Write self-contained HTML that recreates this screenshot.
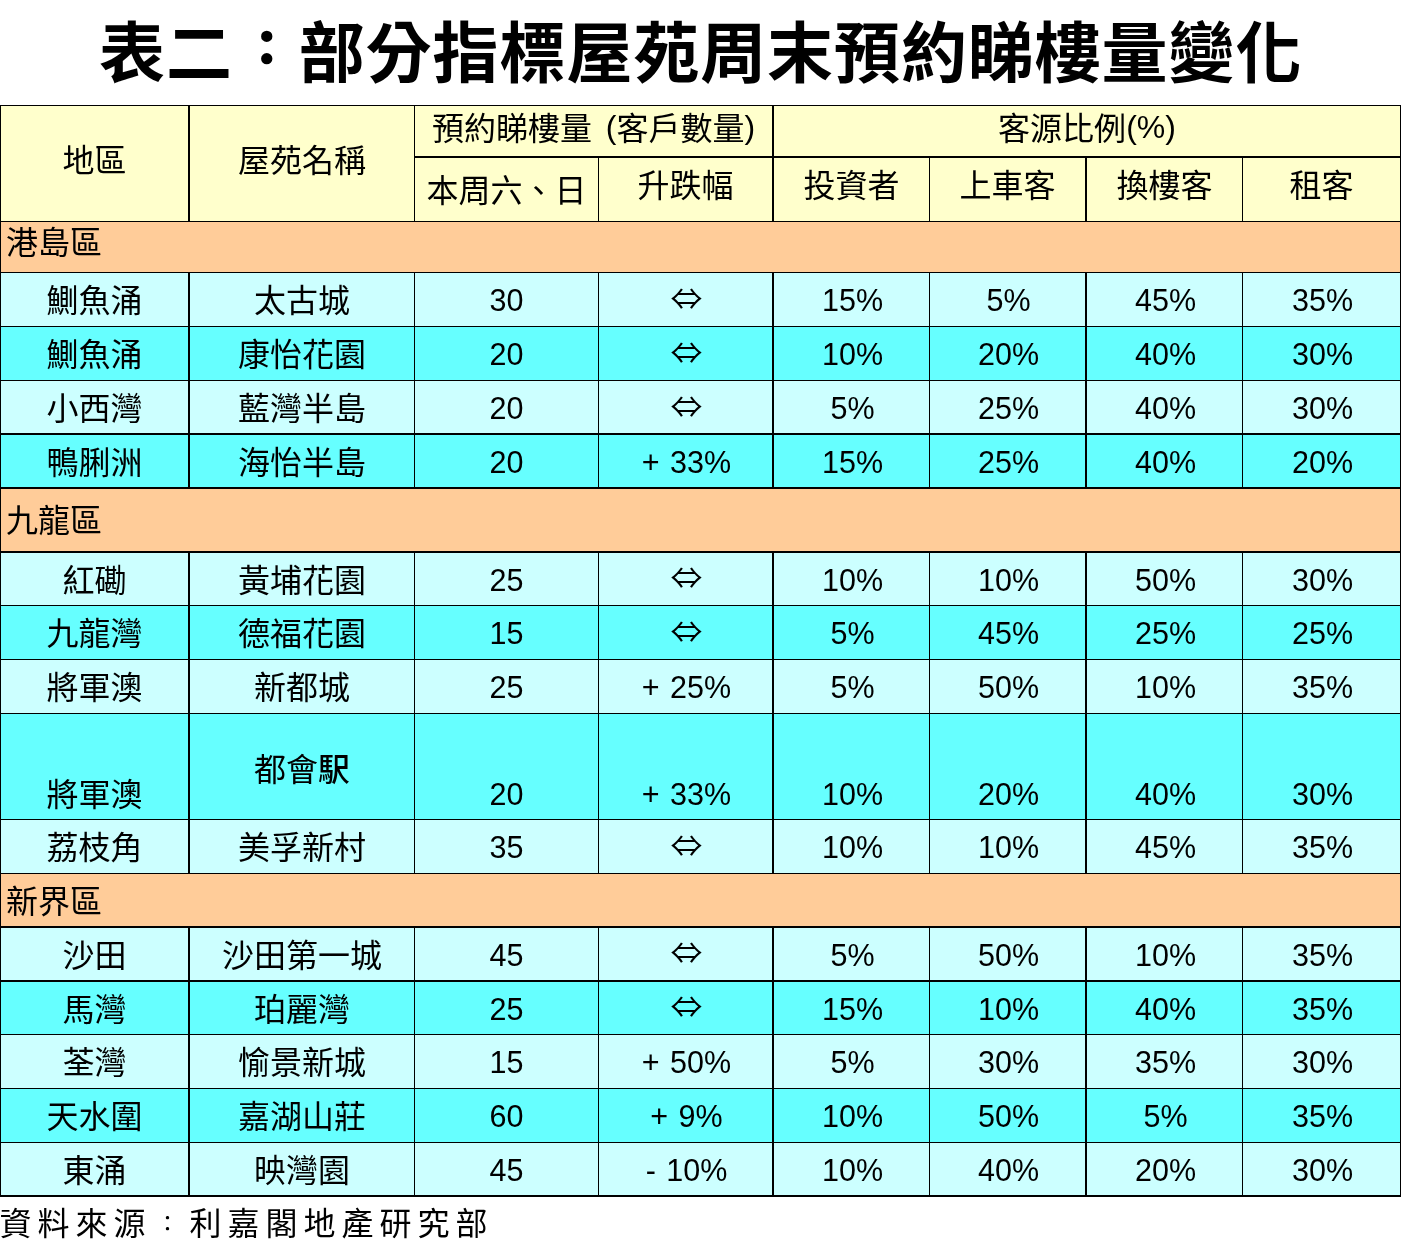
<!DOCTYPE html>
<html><head><meta charset="utf-8"><title>表二：部分指標屋苑周末預約睇樓量變化</title>
<style>
html,body{margin:0;padding:0;background:#fff;}
body{width:1406px;height:1252px;position:relative;overflow:hidden;}
.b,.l,.t{position:absolute;}
.l{background:#000;}
.t{white-space:nowrap;text-align:center;color:#000;height:40px;line-height:40px;}
.c{font-family:"Liberation Sans","Noto Sans CJK TC",sans-serif;font-size:32px;}
.c b{font-weight:500;}
.p{position:relative;top:-2px;}
.n{font-family:"Liberation Sans","Noto Sans CJK TC",sans-serif;font-size:30.5px;word-spacing:2px;}
.arw{font-family:"Noto Sans CJK TC",sans-serif;font-size:29px;}
.arw span{display:inline-block;transform:scaleX(1.1);}
.left{text-align:left;}
.title{position:absolute;left:99px;top:-2.5px;letter-spacing:0.9px;font-family:"Noto Sans CJK TC",sans-serif;font-weight:700;font-size:66px;line-height:100px;height:100px;white-space:nowrap;}
.foot{position:absolute;left:-0.5px;top:1201px;font-family:"Liberation Sans","Noto Sans CJK TC",sans-serif;font-size:32px;letter-spacing:6px;line-height:46px;white-space:nowrap;}
.tc{display:inline-block;width:66px;text-align:center;font-size:46px;-webkit-text-stroke:2.6px #000;position:relative;top:-3.5px;left:1.5px;vertical-align:top;line-height:100px;}
.fc{display:inline-block;width:38px;text-align:center;font-size:22px;position:relative;top:0px;vertical-align:top;line-height:46px;}
</style></head><body>
<div class="title">表二<span class="tc">：</span>部分指標屋苑周末預約睇樓量變化</div>
<div class="b" style="left:0px;top:105px;width:1401px;height:116px;background:#FFFFCC"></div>
<div class="b" style="left:0px;top:221px;width:1401px;height:51px;background:#FFCC99"></div>
<div class="b" style="left:0px;top:487px;width:1401px;height:64px;background:#FFCC99"></div>
<div class="b" style="left:0px;top:873px;width:1401px;height:53px;background:#FFCC99"></div>
<div class="b" style="left:0px;top:272px;width:1401px;height:54px;background:#CCFFFF"></div>
<div class="b" style="left:0px;top:326px;width:1401px;height:54px;background:#66FFFF"></div>
<div class="b" style="left:0px;top:380px;width:1401px;height:53px;background:#CCFFFF"></div>
<div class="b" style="left:0px;top:433px;width:1401px;height:54px;background:#66FFFF"></div>
<div class="b" style="left:0px;top:551px;width:1401px;height:54px;background:#CCFFFF"></div>
<div class="b" style="left:0px;top:605px;width:1401px;height:54px;background:#66FFFF"></div>
<div class="b" style="left:0px;top:659px;width:1401px;height:54px;background:#CCFFFF"></div>
<div class="b" style="left:0px;top:713px;width:1401px;height:106px;background:#66FFFF"></div>
<div class="b" style="left:0px;top:819px;width:1401px;height:54px;background:#CCFFFF"></div>
<div class="b" style="left:0px;top:926px;width:1401px;height:54px;background:#CCFFFF"></div>
<div class="b" style="left:0px;top:980px;width:1401px;height:54px;background:#66FFFF"></div>
<div class="b" style="left:0px;top:1034px;width:1401px;height:54px;background:#CCFFFF"></div>
<div class="b" style="left:0px;top:1088px;width:1401px;height:54px;background:#66FFFF"></div>
<div class="b" style="left:0px;top:1142px;width:1401px;height:53px;background:#CCFFFF"></div>
<div class="l" style="left:0px;top:105px;width:1401px;height:1px"></div>
<div class="l" style="left:414px;top:156px;width:987px;height:2px"></div>
<div class="l" style="left:0px;top:221px;width:1401px;height:1px"></div>
<div class="l" style="left:0px;top:272px;width:1401px;height:1px"></div>
<div class="l" style="left:0px;top:326px;width:1401px;height:1px"></div>
<div class="l" style="left:0px;top:380px;width:1401px;height:1px"></div>
<div class="l" style="left:0px;top:433px;width:1401px;height:2px"></div>
<div class="l" style="left:0px;top:487px;width:1401px;height:2px"></div>
<div class="l" style="left:0px;top:551px;width:1401px;height:2px"></div>
<div class="l" style="left:0px;top:605px;width:1401px;height:1px"></div>
<div class="l" style="left:0px;top:659px;width:1401px;height:1px"></div>
<div class="l" style="left:0px;top:713px;width:1401px;height:1px"></div>
<div class="l" style="left:0px;top:819px;width:1401px;height:1px"></div>
<div class="l" style="left:0px;top:873px;width:1401px;height:1px"></div>
<div class="l" style="left:0px;top:926px;width:1401px;height:2px"></div>
<div class="l" style="left:0px;top:980px;width:1401px;height:2px"></div>
<div class="l" style="left:0px;top:1034px;width:1401px;height:1px"></div>
<div class="l" style="left:0px;top:1088px;width:1401px;height:1px"></div>
<div class="l" style="left:0px;top:1142px;width:1401px;height:1px"></div>
<div class="l" style="left:0px;top:1195px;width:1401px;height:2px"></div>
<div class="l" style="left:0px;top:105px;width:1px;height:116px"></div>
<div class="l" style="left:188px;top:105px;width:2px;height:116px"></div>
<div class="l" style="left:414px;top:105px;width:1px;height:116px"></div>
<div class="l" style="left:598px;top:156px;width:1px;height:65px"></div>
<div class="l" style="left:772px;top:105px;width:2px;height:116px"></div>
<div class="l" style="left:929px;top:156px;width:1px;height:65px"></div>
<div class="l" style="left:1085px;top:156px;width:2px;height:65px"></div>
<div class="l" style="left:1242px;top:156px;width:1px;height:65px"></div>
<div class="l" style="left:1400px;top:105px;width:1px;height:116px"></div>
<div class="l" style="left:0px;top:272px;width:1px;height:55px"></div>
<div class="l" style="left:188px;top:272px;width:2px;height:55px"></div>
<div class="l" style="left:414px;top:272px;width:1px;height:55px"></div>
<div class="l" style="left:598px;top:272px;width:1px;height:55px"></div>
<div class="l" style="left:772px;top:272px;width:2px;height:55px"></div>
<div class="l" style="left:929px;top:272px;width:1px;height:55px"></div>
<div class="l" style="left:1085px;top:272px;width:2px;height:55px"></div>
<div class="l" style="left:1242px;top:272px;width:1px;height:55px"></div>
<div class="l" style="left:1400px;top:272px;width:1px;height:55px"></div>
<div class="l" style="left:0px;top:326px;width:1px;height:55px"></div>
<div class="l" style="left:188px;top:326px;width:2px;height:55px"></div>
<div class="l" style="left:414px;top:326px;width:1px;height:55px"></div>
<div class="l" style="left:598px;top:326px;width:1px;height:55px"></div>
<div class="l" style="left:772px;top:326px;width:2px;height:55px"></div>
<div class="l" style="left:929px;top:326px;width:1px;height:55px"></div>
<div class="l" style="left:1085px;top:326px;width:2px;height:55px"></div>
<div class="l" style="left:1242px;top:326px;width:1px;height:55px"></div>
<div class="l" style="left:1400px;top:326px;width:1px;height:55px"></div>
<div class="l" style="left:0px;top:380px;width:1px;height:55px"></div>
<div class="l" style="left:188px;top:380px;width:2px;height:55px"></div>
<div class="l" style="left:414px;top:380px;width:1px;height:55px"></div>
<div class="l" style="left:598px;top:380px;width:1px;height:55px"></div>
<div class="l" style="left:772px;top:380px;width:2px;height:55px"></div>
<div class="l" style="left:929px;top:380px;width:1px;height:55px"></div>
<div class="l" style="left:1085px;top:380px;width:2px;height:55px"></div>
<div class="l" style="left:1242px;top:380px;width:1px;height:55px"></div>
<div class="l" style="left:1400px;top:380px;width:1px;height:55px"></div>
<div class="l" style="left:0px;top:433px;width:1px;height:56px"></div>
<div class="l" style="left:188px;top:433px;width:2px;height:56px"></div>
<div class="l" style="left:414px;top:433px;width:1px;height:56px"></div>
<div class="l" style="left:598px;top:433px;width:1px;height:56px"></div>
<div class="l" style="left:772px;top:433px;width:2px;height:56px"></div>
<div class="l" style="left:929px;top:433px;width:1px;height:56px"></div>
<div class="l" style="left:1085px;top:433px;width:2px;height:56px"></div>
<div class="l" style="left:1242px;top:433px;width:1px;height:56px"></div>
<div class="l" style="left:1400px;top:433px;width:1px;height:56px"></div>
<div class="l" style="left:0px;top:551px;width:1px;height:55px"></div>
<div class="l" style="left:188px;top:551px;width:2px;height:55px"></div>
<div class="l" style="left:414px;top:551px;width:1px;height:55px"></div>
<div class="l" style="left:598px;top:551px;width:1px;height:55px"></div>
<div class="l" style="left:772px;top:551px;width:2px;height:55px"></div>
<div class="l" style="left:929px;top:551px;width:1px;height:55px"></div>
<div class="l" style="left:1085px;top:551px;width:2px;height:55px"></div>
<div class="l" style="left:1242px;top:551px;width:1px;height:55px"></div>
<div class="l" style="left:1400px;top:551px;width:1px;height:55px"></div>
<div class="l" style="left:0px;top:605px;width:1px;height:55px"></div>
<div class="l" style="left:188px;top:605px;width:2px;height:55px"></div>
<div class="l" style="left:414px;top:605px;width:1px;height:55px"></div>
<div class="l" style="left:598px;top:605px;width:1px;height:55px"></div>
<div class="l" style="left:772px;top:605px;width:2px;height:55px"></div>
<div class="l" style="left:929px;top:605px;width:1px;height:55px"></div>
<div class="l" style="left:1085px;top:605px;width:2px;height:55px"></div>
<div class="l" style="left:1242px;top:605px;width:1px;height:55px"></div>
<div class="l" style="left:1400px;top:605px;width:1px;height:55px"></div>
<div class="l" style="left:0px;top:659px;width:1px;height:55px"></div>
<div class="l" style="left:188px;top:659px;width:2px;height:55px"></div>
<div class="l" style="left:414px;top:659px;width:1px;height:55px"></div>
<div class="l" style="left:598px;top:659px;width:1px;height:55px"></div>
<div class="l" style="left:772px;top:659px;width:2px;height:55px"></div>
<div class="l" style="left:929px;top:659px;width:1px;height:55px"></div>
<div class="l" style="left:1085px;top:659px;width:2px;height:55px"></div>
<div class="l" style="left:1242px;top:659px;width:1px;height:55px"></div>
<div class="l" style="left:1400px;top:659px;width:1px;height:55px"></div>
<div class="l" style="left:0px;top:713px;width:1px;height:107px"></div>
<div class="l" style="left:188px;top:713px;width:2px;height:107px"></div>
<div class="l" style="left:414px;top:713px;width:1px;height:107px"></div>
<div class="l" style="left:598px;top:713px;width:1px;height:107px"></div>
<div class="l" style="left:772px;top:713px;width:2px;height:107px"></div>
<div class="l" style="left:929px;top:713px;width:1px;height:107px"></div>
<div class="l" style="left:1085px;top:713px;width:2px;height:107px"></div>
<div class="l" style="left:1242px;top:713px;width:1px;height:107px"></div>
<div class="l" style="left:1400px;top:713px;width:1px;height:107px"></div>
<div class="l" style="left:0px;top:819px;width:1px;height:55px"></div>
<div class="l" style="left:188px;top:819px;width:2px;height:55px"></div>
<div class="l" style="left:414px;top:819px;width:1px;height:55px"></div>
<div class="l" style="left:598px;top:819px;width:1px;height:55px"></div>
<div class="l" style="left:772px;top:819px;width:2px;height:55px"></div>
<div class="l" style="left:929px;top:819px;width:1px;height:55px"></div>
<div class="l" style="left:1085px;top:819px;width:2px;height:55px"></div>
<div class="l" style="left:1242px;top:819px;width:1px;height:55px"></div>
<div class="l" style="left:1400px;top:819px;width:1px;height:55px"></div>
<div class="l" style="left:0px;top:926px;width:1px;height:56px"></div>
<div class="l" style="left:188px;top:926px;width:2px;height:56px"></div>
<div class="l" style="left:414px;top:926px;width:1px;height:56px"></div>
<div class="l" style="left:598px;top:926px;width:1px;height:56px"></div>
<div class="l" style="left:772px;top:926px;width:2px;height:56px"></div>
<div class="l" style="left:929px;top:926px;width:1px;height:56px"></div>
<div class="l" style="left:1085px;top:926px;width:2px;height:56px"></div>
<div class="l" style="left:1242px;top:926px;width:1px;height:56px"></div>
<div class="l" style="left:1400px;top:926px;width:1px;height:56px"></div>
<div class="l" style="left:0px;top:980px;width:1px;height:55px"></div>
<div class="l" style="left:188px;top:980px;width:2px;height:55px"></div>
<div class="l" style="left:414px;top:980px;width:1px;height:55px"></div>
<div class="l" style="left:598px;top:980px;width:1px;height:55px"></div>
<div class="l" style="left:772px;top:980px;width:2px;height:55px"></div>
<div class="l" style="left:929px;top:980px;width:1px;height:55px"></div>
<div class="l" style="left:1085px;top:980px;width:2px;height:55px"></div>
<div class="l" style="left:1242px;top:980px;width:1px;height:55px"></div>
<div class="l" style="left:1400px;top:980px;width:1px;height:55px"></div>
<div class="l" style="left:0px;top:1034px;width:1px;height:55px"></div>
<div class="l" style="left:188px;top:1034px;width:2px;height:55px"></div>
<div class="l" style="left:414px;top:1034px;width:1px;height:55px"></div>
<div class="l" style="left:598px;top:1034px;width:1px;height:55px"></div>
<div class="l" style="left:772px;top:1034px;width:2px;height:55px"></div>
<div class="l" style="left:929px;top:1034px;width:1px;height:55px"></div>
<div class="l" style="left:1085px;top:1034px;width:2px;height:55px"></div>
<div class="l" style="left:1242px;top:1034px;width:1px;height:55px"></div>
<div class="l" style="left:1400px;top:1034px;width:1px;height:55px"></div>
<div class="l" style="left:0px;top:1088px;width:1px;height:55px"></div>
<div class="l" style="left:188px;top:1088px;width:2px;height:55px"></div>
<div class="l" style="left:414px;top:1088px;width:1px;height:55px"></div>
<div class="l" style="left:598px;top:1088px;width:1px;height:55px"></div>
<div class="l" style="left:772px;top:1088px;width:2px;height:55px"></div>
<div class="l" style="left:929px;top:1088px;width:1px;height:55px"></div>
<div class="l" style="left:1085px;top:1088px;width:2px;height:55px"></div>
<div class="l" style="left:1242px;top:1088px;width:1px;height:55px"></div>
<div class="l" style="left:1400px;top:1088px;width:1px;height:55px"></div>
<div class="l" style="left:0px;top:1142px;width:1px;height:55px"></div>
<div class="l" style="left:188px;top:1142px;width:2px;height:55px"></div>
<div class="l" style="left:414px;top:1142px;width:1px;height:55px"></div>
<div class="l" style="left:598px;top:1142px;width:1px;height:55px"></div>
<div class="l" style="left:772px;top:1142px;width:2px;height:55px"></div>
<div class="l" style="left:929px;top:1142px;width:1px;height:55px"></div>
<div class="l" style="left:1085px;top:1142px;width:2px;height:55px"></div>
<div class="l" style="left:1242px;top:1142px;width:1px;height:55px"></div>
<div class="l" style="left:1400px;top:1142px;width:1px;height:55px"></div>
<div class="l" style="left:0px;top:221px;width:1px;height:53px"></div>
<div class="l" style="left:1400px;top:221px;width:1px;height:53px"></div>
<div class="l" style="left:0px;top:487px;width:1px;height:66px"></div>
<div class="l" style="left:1400px;top:487px;width:1px;height:66px"></div>
<div class="l" style="left:0px;top:873px;width:1px;height:55px"></div>
<div class="l" style="left:1400px;top:873px;width:1px;height:55px"></div>
<div class="t c" style="left:1px;width:187px;top:141px;">地區</div>
<div class="t c" style="left:190px;width:224px;top:141px;">屋苑名稱</div>
<div class="t c" style="left:414px;width:359px;top:109px;word-spacing:5px;">預約睇樓量 <span class="p">(</span>客戶數量<span class="p">)</span></div>
<div class="t c" style="left:773px;width:628px;top:109px;">客源比例<span class="p">(%)</span></div>
<div class="t c" style="left:415px;width:183px;top:170.5px;">本周六、日</div>
<div class="t c" style="left:599px;width:173px;top:165.6px;">升跌幅</div>
<div class="t c" style="left:774px;width:155px;top:165.8px;">投資者</div>
<div class="t c" style="left:930px;width:155px;top:165.8px;">上車客</div>
<div class="t c" style="left:1087px;width:155px;top:165.8px;">換樓客</div>
<div class="t c" style="left:1243px;width:157px;top:165.8px;">租客</div>
<div class="t c left" style="left:6px;width:294px;top:223px;">港島區</div>
<div class="t c left" style="left:6px;width:294px;top:501px;">九龍區</div>
<div class="t c left" style="left:6px;width:294px;top:881.7px;">新界區</div>
<div class="t c" style="left:1px;width:187px;top:280.8px;">鰂魚涌</div>
<div class="t c" style="left:190px;width:224px;top:280.8px;">太古城</div>
<div class="t n" style="left:415px;width:183px;top:280px;">30</div>
<div class="t arw" style="left:601px;width:171px;top:277px;"><span>⇔</span></div>
<div class="t n" style="left:775px;width:155px;top:280px;">15%</div>
<div class="t n" style="left:931px;width:155px;top:280px;">5%</div>
<div class="t n" style="left:1088px;width:155px;top:280px;">45%</div>
<div class="t n" style="left:1244px;width:157px;top:280px;">35%</div>
<div class="t c" style="left:1px;width:187px;top:334.8px;">鰂魚涌</div>
<div class="t c" style="left:190px;width:224px;top:334.8px;">康怡花園</div>
<div class="t n" style="left:415px;width:183px;top:334px;">20</div>
<div class="t arw" style="left:601px;width:171px;top:331px;"><span>⇔</span></div>
<div class="t n" style="left:775px;width:155px;top:334px;">10%</div>
<div class="t n" style="left:931px;width:155px;top:334px;">20%</div>
<div class="t n" style="left:1088px;width:155px;top:334px;">40%</div>
<div class="t n" style="left:1244px;width:157px;top:334px;">30%</div>
<div class="t c" style="left:1px;width:187px;top:388.8px;">小西灣</div>
<div class="t c" style="left:190px;width:224px;top:388.8px;">藍灣半島</div>
<div class="t n" style="left:415px;width:183px;top:388px;">20</div>
<div class="t arw" style="left:601px;width:171px;top:385px;"><span>⇔</span></div>
<div class="t n" style="left:775px;width:155px;top:388px;">5%</div>
<div class="t n" style="left:931px;width:155px;top:388px;">25%</div>
<div class="t n" style="left:1088px;width:155px;top:388px;">40%</div>
<div class="t n" style="left:1244px;width:157px;top:388px;">30%</div>
<div class="t c" style="left:1px;width:187px;top:442.8px;">鴨脷洲</div>
<div class="t c" style="left:190px;width:224px;top:442.8px;">海怡半島</div>
<div class="t n" style="left:415px;width:183px;top:442px;">20</div>
<div class="t n" style="left:600px;width:173px;top:442px;">+ 33%</div>
<div class="t n" style="left:775px;width:155px;top:442px;">15%</div>
<div class="t n" style="left:931px;width:155px;top:442px;">25%</div>
<div class="t n" style="left:1088px;width:155px;top:442px;">40%</div>
<div class="t n" style="left:1244px;width:157px;top:442px;">20%</div>
<div class="t c" style="left:1px;width:187px;top:560.8px;">紅磡</div>
<div class="t c" style="left:190px;width:224px;top:560.8px;">黃埔花園</div>
<div class="t n" style="left:415px;width:183px;top:560px;">25</div>
<div class="t arw" style="left:601px;width:171px;top:556px;"><span>⇔</span></div>
<div class="t n" style="left:775px;width:155px;top:560px;">10%</div>
<div class="t n" style="left:931px;width:155px;top:560px;">10%</div>
<div class="t n" style="left:1088px;width:155px;top:560px;">50%</div>
<div class="t n" style="left:1244px;width:157px;top:560px;">30%</div>
<div class="t c" style="left:1px;width:187px;top:613.8px;">九龍灣</div>
<div class="t c" style="left:190px;width:224px;top:613.8px;">德福花園</div>
<div class="t n" style="left:415px;width:183px;top:613px;">15</div>
<div class="t arw" style="left:601px;width:171px;top:610px;"><span>⇔</span></div>
<div class="t n" style="left:775px;width:155px;top:613px;">5%</div>
<div class="t n" style="left:931px;width:155px;top:613px;">45%</div>
<div class="t n" style="left:1088px;width:155px;top:613px;">25%</div>
<div class="t n" style="left:1244px;width:157px;top:613px;">25%</div>
<div class="t c" style="left:1px;width:187px;top:667.8px;">將軍澳</div>
<div class="t c" style="left:190px;width:224px;top:667.8px;">新都城</div>
<div class="t n" style="left:415px;width:183px;top:667px;">25</div>
<div class="t n" style="left:600px;width:173px;top:667px;">+ 25%</div>
<div class="t n" style="left:775px;width:155px;top:667px;">5%</div>
<div class="t n" style="left:931px;width:155px;top:667px;">50%</div>
<div class="t n" style="left:1088px;width:155px;top:667px;">10%</div>
<div class="t n" style="left:1244px;width:157px;top:667px;">35%</div>
<div class="t c" style="left:1px;width:187px;top:774.8px;">將軍澳</div>
<div class="t c" style="left:190px;width:224px;top:750px;">都會<b>駅</b></div>
<div class="t n" style="left:415px;width:183px;top:774px;">20</div>
<div class="t n" style="left:600px;width:173px;top:774px;">+ 33%</div>
<div class="t n" style="left:775px;width:155px;top:774px;">10%</div>
<div class="t n" style="left:931px;width:155px;top:774px;">20%</div>
<div class="t n" style="left:1088px;width:155px;top:774px;">40%</div>
<div class="t n" style="left:1244px;width:157px;top:774px;">30%</div>
<div class="t c" style="left:1px;width:187px;top:827.8px;">荔枝角</div>
<div class="t c" style="left:190px;width:224px;top:827.8px;">美孚新村</div>
<div class="t n" style="left:415px;width:183px;top:827px;">35</div>
<div class="t arw" style="left:601px;width:171px;top:824px;"><span>⇔</span></div>
<div class="t n" style="left:775px;width:155px;top:827px;">10%</div>
<div class="t n" style="left:931px;width:155px;top:827px;">10%</div>
<div class="t n" style="left:1088px;width:155px;top:827px;">45%</div>
<div class="t n" style="left:1244px;width:157px;top:827px;">35%</div>
<div class="t c" style="left:1px;width:187px;top:935.8px;">沙田</div>
<div class="t c" style="left:190px;width:224px;top:935.8px;">沙田第一城</div>
<div class="t n" style="left:415px;width:183px;top:935px;">45</div>
<div class="t arw" style="left:601px;width:171px;top:931px;"><span>⇔</span></div>
<div class="t n" style="left:775px;width:155px;top:935px;">5%</div>
<div class="t n" style="left:931px;width:155px;top:935px;">50%</div>
<div class="t n" style="left:1088px;width:155px;top:935px;">10%</div>
<div class="t n" style="left:1244px;width:157px;top:935px;">35%</div>
<div class="t c" style="left:1px;width:187px;top:989.8px;">馬灣</div>
<div class="t c" style="left:190px;width:224px;top:989.8px;">珀麗灣</div>
<div class="t n" style="left:415px;width:183px;top:989px;">25</div>
<div class="t arw" style="left:601px;width:171px;top:985px;"><span>⇔</span></div>
<div class="t n" style="left:775px;width:155px;top:989px;">15%</div>
<div class="t n" style="left:931px;width:155px;top:989px;">10%</div>
<div class="t n" style="left:1088px;width:155px;top:989px;">40%</div>
<div class="t n" style="left:1244px;width:157px;top:989px;">35%</div>
<div class="t c" style="left:1px;width:187px;top:1042.8px;">荃灣</div>
<div class="t c" style="left:190px;width:224px;top:1042.8px;">愉景新城</div>
<div class="t n" style="left:415px;width:183px;top:1042px;">15</div>
<div class="t n" style="left:600px;width:173px;top:1042px;">+ 50%</div>
<div class="t n" style="left:775px;width:155px;top:1042px;">5%</div>
<div class="t n" style="left:931px;width:155px;top:1042px;">30%</div>
<div class="t n" style="left:1088px;width:155px;top:1042px;">35%</div>
<div class="t n" style="left:1244px;width:157px;top:1042px;">30%</div>
<div class="t c" style="left:1px;width:187px;top:1096.8px;">天水圍</div>
<div class="t c" style="left:190px;width:224px;top:1096.8px;">嘉湖山莊</div>
<div class="t n" style="left:415px;width:183px;top:1096px;">60</div>
<div class="t n" style="left:600px;width:173px;top:1096px;">+ 9%</div>
<div class="t n" style="left:775px;width:155px;top:1096px;">10%</div>
<div class="t n" style="left:931px;width:155px;top:1096px;">50%</div>
<div class="t n" style="left:1088px;width:155px;top:1096px;">5%</div>
<div class="t n" style="left:1244px;width:157px;top:1096px;">35%</div>
<div class="t c" style="left:1px;width:187px;top:1150.8px;">東涌</div>
<div class="t c" style="left:190px;width:224px;top:1150.8px;">映灣園</div>
<div class="t n" style="left:415px;width:183px;top:1150px;">45</div>
<div class="t n" style="left:600px;width:173px;top:1150px;">- 10%</div>
<div class="t n" style="left:775px;width:155px;top:1150px;">10%</div>
<div class="t n" style="left:931px;width:155px;top:1150px;">40%</div>
<div class="t n" style="left:1088px;width:155px;top:1150px;">20%</div>
<div class="t n" style="left:1244px;width:157px;top:1150px;">30%</div>
<div class="foot">資料來源<span class="fc">：</span>利嘉閣地產研究部</div>
</body></html>
